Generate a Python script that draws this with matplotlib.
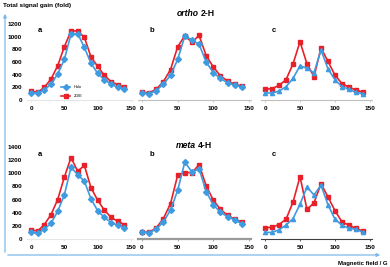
import matplotlib
matplotlib.use('Agg')
import matplotlib.pyplot as plt

plt.rcParams['font.family'] = ['Liberation Sans', 'DejaVu Sans']

# --- data ---
field = [0, 10, 20, 30, 40, 50, 60, 70, 80, 90, 100, 110, 120, 130, 140]
series_names = ["Halo", "2GIE"]

ortho_a_red = [140, 120, 200, 330, 540, 840, 1090, 1090, 990, 680, 530, 390, 290, 240, 200]
ortho_a_blue = [110, 110, 160, 250, 410, 640, 1040, 1050, 830, 580, 420, 320, 250, 200, 170]
ortho_b_red = [120, 115, 170, 290, 480, 840, 1015, 910, 1020, 700, 520, 380, 300, 250, 220]
ortho_b_blue = [110, 100, 150, 250, 390, 640, 1010, 950, 880, 600, 430, 340, 270, 235, 200]
ortho_c_red = [170, 180, 230, 320, 570, 920, 570, 370, 820, 610, 390, 260, 200, 160, 120]
ortho_c_blue = [110, 110, 140, 210, 340, 540, 500, 430, 790, 490, 320, 210, 170, 120, 100]

meta_a_red = [140, 120, 220, 370, 600, 940, 1240, 1030, 1120, 780, 590, 440, 330, 270, 220]
meta_a_blue = [100, 90, 150, 240, 420, 670, 1090, 980, 880, 610, 430, 330, 250, 210, 170]
meta_b_red = [110, 100, 170, 310, 540, 970, 1010, 1010, 1130, 810, 590, 450, 360, 300, 260]
meta_b_blue = [110, 96, 150, 260, 440, 740, 1170, 1020, 1070, 720, 520, 405, 340, 290, 230]
meta_c_red = [170, 180, 220, 300, 560, 950, 450, 550, 840, 640, 430, 260, 210, 160, 120]
meta_c_blue = [100, 100, 140, 210, 310, 530, 790, 670, 820, 520, 300, 210, 160, 150, 100]

RED = '#e8202a'
BLUE = '#3f9be0'
W, H = 390, 267
TICK_FS = 4.6

fig = plt.figure(figsize=(W / 100, H / 100), dpi=100)


def px_axes(x0_px, x150_px, y0_px, ytop_px, ytop_val):
    # place an axes so that x=0..150 and y=0..ytop_val land on the given pixels
    ppu = (x150_px - x0_px) / 150.0
    left = x0_px - 6 * ppu
    right = x150_px + 3 * ppu
    ax = fig.add_axes([left / W, 1 - y0_px / H, (right - left) / W, (y0_px - ytop_px) / H])
    ax.set_xlim(-6, 153)
    ax.set_ylim(0, ytop_val)
    ax.patch.set_alpha(0)
    for s in ['top', 'right', 'left']:
        ax.spines[s].set_visible(False)
    ax.set_xticks([0, 50, 100, 150])
    ax.tick_params(axis='x', labelsize=TICK_FS, length=1.5, width=0.6, pad=2.5)
    for lab in ax.get_xticklabels():
        lab.set_fontweight('bold')
    return ax


def draw(ax, red, blue, blue_marker, label, show_y=False, yticks=None, legend=False,
         spine_color='#bfbfbf', spine_width=0.8):
    ax.plot(field, blue, color=BLUE, marker=blue_marker, markersize=3.0, lw=1.2,
            label=series_names[0], zorder=3)
    ax.plot(field, red, color=RED, marker='s', markersize=3.4, lw=1.2,
            label=series_names[1], zorder=2)
    ax.spines['bottom'].set_color(spine_color)
    ax.spines['bottom'].set_linewidth(spine_width)
    ax.tick_params(axis='x', color=spine_color)
    if show_y:
        ax.set_yticks(yticks)
        ax.tick_params(axis='y', labelsize=TICK_FS, length=0, pad=3.5)
        for lab in ax.get_yticklabels():
            lab.set_fontweight('bold')
    else:
        ax.set_yticks([])
    ax.text(0.1, 0.9, label, transform=ax.transAxes, fontsize=5.5, fontweight='bold')
    if legend:
        ax.legend(loc='lower center', bbox_to_anchor=(0.42, -0.02), fontsize=2.8, frameon=False,
                  handlelength=2.5, labelspacing=1.3)


# top row: ortho 2-H
ax = px_axes(31, 131, 100, 24, 1200)
draw(ax, ortho_a_red, ortho_a_blue, 'D', 'a', True, range(0, 1201, 200), legend=True,
     spine_color='#e6e6e6')
ax = px_axes(142, 249, 100, 24, 1200)
draw(ax, ortho_b_red, ortho_b_blue, 'D', 'b')
ax = px_axes(265, 370, 100, 24, 1200)
draw(ax, ortho_c_red, ortho_c_blue, '^', 'c')

# bottom row: meta 4-H
ax = px_axes(31, 131, 239, 147, 1400)
draw(ax, meta_a_red, meta_a_blue, 'D', 'a', True, range(0, 1401, 200), spine_color='#e6e6e6')
ax = px_axes(142, 249, 239, 147, 1400)
draw(ax, meta_b_red, meta_b_blue, 'D', 'b', spine_color='#9a9a9a', spine_width=1.6)
ax = px_axes(265, 370, 239, 147, 1400)
draw(ax, meta_c_red, meta_c_blue, '^', 'c', spine_color='#404040', spine_width=0.8)

# blue frame arrows
arrow_kw = dict(arrowstyle='-|>', color='#7cb9ea', lw=0.9, mutation_scale=5)
fig.add_artist(matplotlib.patches.FancyArrowPatch((5 / W, 1 - 255 / H), (5 / W, 1 - 11 / H),
                                                  transform=fig.transFigure, **arrow_kw))
fig.add_artist(matplotlib.patches.FancyArrowPatch((5 / W, 1 - 255 / H), (383 / W, 1 - 255 / H),
                                                  transform=fig.transFigure, **arrow_kw))

fig.text(3 / W, 1 - 5 / H, 'Total signal gain (fold)', fontsize=4.6, fontweight='bold', va='center')
fig.text(388 / W, 1 - 263 / H, 'Magnetic field / G', fontsize=4.3, fontweight='bold',
         va='center', ha='right')

fig.text(199 / W, 1 - 13 / H, 'ortho', fontsize=6.2, fontweight='bold', fontstyle='italic',
         va='center', ha='right')
fig.text(201 / W, 1 - 13 / H, '2-H', fontsize=6.2, fontweight='bold', va='center', ha='left')
fig.text(196 / W, 1 - 145 / H, 'meta', fontsize=6.2, fontweight='bold', fontstyle='italic',
         va='center', ha='right')
fig.text(198 / W, 1 - 145 / H, '4-H', fontsize=6.2, fontweight='bold', va='center', ha='left')

fig.savefig('out.png', dpi=100)
